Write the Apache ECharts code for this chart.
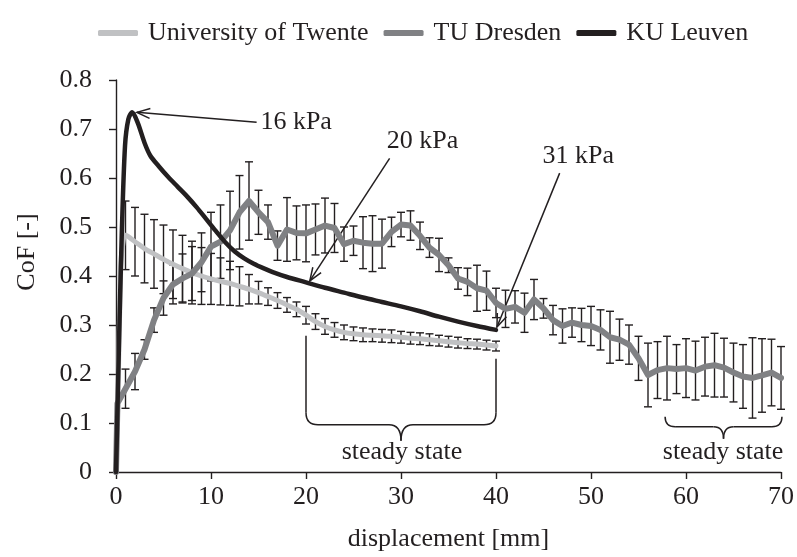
<!DOCTYPE html>
<html>
<head>
<meta charset="utf-8">
<script src="https://cdn.jsdelivr.net/npm/echarts@6.0.0/dist/echarts.min.js"></script>
<style>
  html, body { margin: 0; padding: 0; background: #fff; }
  #main { width: 797px; height: 557px; }
</style>
</head>
<body>
<div id="main"></div>
<script>
// displacement [mm] / CoF [-]

const twenteX = [0, 0.2, 0.5, 0.8, 1, 2, 3, 4, 5, 6, 7, 8, 9, 10, 11, 12, 13, 14, 15, 16, 17, 18, 19, 20,
  21, 22, 23, 24, 25, 26, 27, 28, 29, 30, 31, 32, 33, 34, 35, 36, 37, 38, 39, 40];
const twenteY = [0, 0.15, 0.42, 0.478, 0.483, 0.47, 0.456, 0.445, 0.434, 0.424, 0.415, 0.407, 0.4, 0.394,
  0.389, 0.385, 0.379, 0.373, 0.366, 0.358, 0.35, 0.341, 0.332, 0.32, 0.307, 0.297, 0.29, 0.285, 0.282,
  0.28, 0.279, 0.278, 0.277, 0.275, 0.273, 0.272, 0.27, 0.268, 0.266, 0.264, 0.262, 0.261, 0.259, 0.257];
const twenteErr = [null, null, null, null, 0.07, 0.07, 0.07, 0.07, 0.07, 0.07, 0.068, 0.064, 0.058, 0.052,
  0.048, 0.045, 0.04, 0.03, 0.023, 0.018, 0.016, 0.015, 0.015, 0.018, 0.016, 0.016, 0.015, 0.015, 0.014,
  0.014, 0.013, 0.013, 0.013, 0.012, 0.012, 0.012, 0.012, 0.011, 0.011, 0.011, 0.01, 0.01, 0.01, 0.01];

const dresdenX = [0, 0.15, 1, 2, 3, 4, 5, 6, 7, 8, 9, 10, 11, 12, 13, 14, 15, 16, 17, 18, 19, 20,
  21, 22, 23, 24, 25, 26, 27, 28, 29, 30, 31, 32, 33, 34, 35, 36, 37, 38, 39, 40,
  41, 42, 43, 44, 45, 46, 47, 48, 49, 50, 51, 52, 53, 54, 55, 56, 57, 58, 59, 60,
  61, 62, 63, 64, 65, 66, 67, 68, 69, 70];
const dresdenY = [0, 0.14, 0.17, 0.205, 0.25, 0.31, 0.355, 0.383, 0.395, 0.405, 0.428, 0.46,
  0.47, 0.493, 0.53, 0.553, 0.53, 0.51, 0.462, 0.495, 0.488, 0.487,
  0.495, 0.503, 0.498, 0.465, 0.472, 0.468, 0.466, 0.466, 0.49, 0.505,
  0.503, 0.482, 0.458, 0.443, 0.422, 0.395, 0.388, 0.375, 0.37, 0.345,
  0.333, 0.337, 0.325, 0.352, 0.334, 0.31, 0.298, 0.305, 0.3, 0.298,
  0.29, 0.275, 0.27, 0.26, 0.232, 0.198, 0.208, 0.212, 0.21, 0.212,
  0.207, 0.215, 0.218, 0.213, 0.203, 0.195, 0.192, 0.197, 0.203, 0.192];
const dresdenErr = [null, null, 0.04, 0.037, 0.02, 0.025, 0.035, 0.04, 0.05, 0.055, 0.06, 0.07,
  0.075, 0.08, 0.075, 0.08, 0.045, 0.035, 0.03, 0.065, 0.055, 0.058,
  0.052, 0.056, 0.05, 0.035, 0.03, 0.053, 0.057, 0.05, 0.03, 0.025,
  0.03, 0.028, 0.02, 0.034, 0.015, 0.022, 0.028, 0.047, 0.04, 0.03,
  0.038, 0.033, 0.04, 0.041, 0.02, 0.03, 0.035, 0.03, 0.034, 0.04,
  0.041, 0.053, 0.042, 0.04, 0.045, 0.065, 0.058, 0.065, 0.05, 0.06,
  0.06, 0.06, 0.065, 0.06, 0.06, 0.065, 0.082, 0.075, 0.068, 0.064];

const leuvenX = [0, 0.3, 0.6, 0.95, 1.3, 1.7, 2.3, 3, 3.6, 4.5, 5.5, 6.5, 7.5, 8.5, 9.5, 10.5, 11.5,
  12.5, 13.5, 14.5, 15.5, 16.5, 18, 20, 22, 24, 26, 28, 30, 32, 34, 36, 38, 40];
const leuvenY = [0, 0.25, 0.48, 0.666, 0.72, 0.734, 0.712, 0.672, 0.646, 0.624, 0.602, 0.582, 0.562,
  0.54, 0.516, 0.492, 0.469, 0.45, 0.436, 0.425, 0.416, 0.408, 0.398, 0.387, 0.376, 0.366,
  0.356, 0.347, 0.338, 0.328, 0.317, 0.307, 0.298, 0.29];

const seriesNames = ['University of Twente', 'TU Dresden', 'KU Leuven'];
const xTicks = { min: 0, max: 70, interval: 10 };
const yTicks = { min: 0, max: 0.8, interval: 0.1 };

const FONT = '"Liberation Serif", "Times New Roman", serif';
const INK = '#231f20';

let chart = echarts.init(document.getElementById('main'));

let pairs = (xs, ys) => xs.map((x, i) => [x, ys[i]]);
let bars = (xs, ys, err) => {
  let out = [];
  xs.forEach((x, i) => {
    if (err[i] != null) out.push([x, ys[i] - err[i], ys[i] + err[i]]);
  });
  return out;
};

let renderErr = (params, api) => {
  let x = api.value(0);
  let lo = api.coord([x, api.value(1)]);
  let hi = api.coord([x, api.value(2)]);
  let w = 4;
  let st = { stroke: INK, lineWidth: 1.4 };
  return {
    type: 'group',
    children: [
      { type: 'line', shape: { x1: hi[0], y1: hi[1], x2: lo[0], y2: lo[1] }, style: st },
      { type: 'line', shape: { x1: hi[0] - w, y1: hi[1], x2: hi[0] + w, y2: hi[1] }, style: st },
      { type: 'line', shape: { x1: lo[0] - w, y1: lo[1], x2: lo[0] + w, y2: lo[1] }, style: st }
    ]
  };
};

let option = {
  animation: false,
  textStyle: { fontFamily: FONT, color: INK },
  legend: {
    data: seriesNames,
    left: 93,
    top: 15,
    icon: 'roundRect',
    itemWidth: 40,
    itemHeight: 6,
    itemGap: 15,
    textStyle: { fontFamily: FONT, fontSize: 26, color: INK, padding: [0, 0, 0, 5] }
  },
  grid: { left: 116, right: 16, top: 80, bottom: 79 },
  xAxis: {
    type: 'value',
    min: xTicks.min, max: xTicks.max, interval: xTicks.interval,
    name: 'displacement [mm]',
    nameLocation: 'middle',
    nameGap: 54,
    nameTextStyle: { fontFamily: FONT, fontSize: 26, color: INK },
    axisLine: { show: true, lineStyle: { color: INK, width: 1.4 } },
    axisTick: { show: true, inside: false, length: 7, lineStyle: { color: INK, width: 1.4 } },
    axisLabel: { fontFamily: FONT, fontSize: 26, color: INK, margin: 12 },
    splitLine: { show: false }
  },
  yAxis: {
    type: 'value',
    min: yTicks.min, max: yTicks.max, interval: yTicks.interval,
    axisLine: { show: true, lineStyle: { color: INK, width: 1.4 } },
    axisTick: { show: true, inside: false, length: 7, lineStyle: { color: INK, width: 1.4 } },
    axisLabel: { fontFamily: FONT, fontSize: 26, color: INK, margin: 24 },
    splitLine: { show: false }
  },
  series: [
    {
      type: 'custom', name: 'twente-err', renderItem: renderErr,
      encode: { x: 0, y: [1, 2] }, data: bars(twenteX, twenteY, twenteErr), z: 1, silent: true
    },
    {
      type: 'custom', name: 'dresden-err', renderItem: renderErr,
      encode: { x: 0, y: [1, 2] }, data: bars(dresdenX, dresdenY, dresdenErr), z: 1, silent: true
    },
    {
      type: 'line', name: seriesNames[0], data: pairs(twenteX, twenteY),
      showSymbol: false, smooth: 0.2, color: '#c0c1c3',
      lineStyle: { width: 5, color: '#c0c1c3', cap: 'round', join: 'round' }, z: 3
    },
    {
      type: 'line', name: seriesNames[1], data: pairs(dresdenX, dresdenY),
      showSymbol: false, color: '#808184',
      lineStyle: { width: 6, color: '#808184', cap: 'round', join: 'round' }, z: 4
    },
    {
      type: 'line', name: seriesNames[2], data: pairs(leuvenX, leuvenY),
      showSymbol: false, smooth: 0.3, color: INK,
      lineStyle: { width: 4.5, color: INK, cap: 'round', join: 'round' }, z: 5
    }
  ]
};

chart.setOption(option);

// annotations (arrows, braces, labels) placed in data units
const notes = [
  { text: '16 kPa', at: [15.2, 0.714], from: [14.8, 0.714], to: [2.2, 0.734] },
  { text: '20 kPa', at: [28.5, 0.676], from: [28.8, 0.640], to: [20.4, 0.390] },
  { text: '31 kPa', at: [44.9, 0.644], from: [46.7, 0.610], to: [40.1, 0.296] }
];
const ticksUp = [[20, 0.278, 0.121], [40, 0.231, 0.121]];
const braces = [
  { x1: 20, x2: 40, y: 0.121, r: 12, h1: 12, h2: 16, label: [30.1, 0.040] },
  { x1: 57.8, x2: 70.1, y: 0.113, r: 10, h1: 10, h2: 12, label: [63.9, 0.040] }
];

let px = (p) => chart.convertToPixel({ gridIndex: 0 }, p);
let stroke = { stroke: INK, lineWidth: 1.5, fill: null };
let textEl = (str, x, y, align, rot) => ({
  type: 'text', x: x, y: y, rotation: rot || 0,
  style: {
    text: str, fill: INK, font: '26px ' + FONT,
    textAlign: align, align: align, textVerticalAlign: 'middle', verticalAlign: 'middle'
  }
});

let g = [];
notes.forEach((n) => {
  let a = px(n.from), b = px(n.to), t = px(n.at);
  let ang = Math.atan2(a[1] - b[1], a[0] - b[0]);
  let len = 14, spread = 0.36;
  let w1 = [b[0] + len * Math.cos(ang + spread), b[1] + len * Math.sin(ang + spread)];
  let w2 = [b[0] + len * Math.cos(ang - spread), b[1] + len * Math.sin(ang - spread)];
  g.push({ type: 'line', shape: { x1: a[0], y1: a[1], x2: b[0], y2: b[1] }, style: stroke });
  g.push({ type: 'polyline', shape: { points: [w1, b, w2] }, style: stroke });
  g.push(textEl(n.text, t[0], t[1], 'left'));
});

ticksUp.forEach((v) => {
  let a = px([v[0], v[1]]), b = px([v[0], v[2]]);
  g.push({ type: 'line', shape: { x1: a[0], y1: a[1], x2: b[0], y2: b[1] }, style: stroke });
});

braces.forEach((br) => {
  let L = px([br.x1, br.y]), R = px([br.x2, br.y]);
  let y0 = L[1], y1 = y0 + br.h1, y2 = y1 + br.h2;
  let xl = L[0], xr = R[0], cx = (xl + xr) / 2, r = br.r;
  g.push({ type: 'bezierCurve', shape: { x1: xl, y1: y0, cpx1: xl, cpy1: y1, x2: xl + r, y2: y1 }, style: stroke });
  g.push({ type: 'line', shape: { x1: xl + r, y1: y1, x2: cx - r, y2: y1 }, style: stroke });
  g.push({ type: 'bezierCurve', shape: { x1: cx - r, y1: y1, cpx1: cx, cpy1: y1, x2: cx, y2: y2 }, style: stroke });
  g.push({ type: 'bezierCurve', shape: { x1: cx, y1: y2, cpx1: cx, cpy1: y1, x2: cx + r, y2: y1 }, style: stroke });
  g.push({ type: 'line', shape: { x1: cx + r, y1: y1, x2: xr - r, y2: y1 }, style: stroke });
  g.push({ type: 'bezierCurve', shape: { x1: xr - r, y1: y1, cpx1: xr, cpy1: y1, x2: xr, y2: y0 }, style: stroke });
  let t = px(br.label);
  g.push(textEl('steady state', t[0], t[1], 'center'));
});

// y axis title
g.push(textEl('CoF [-]', 27, 252, 'center', Math.PI / 2));

chart.setOption({ graphic: g });
</script>
</body>
</html>
